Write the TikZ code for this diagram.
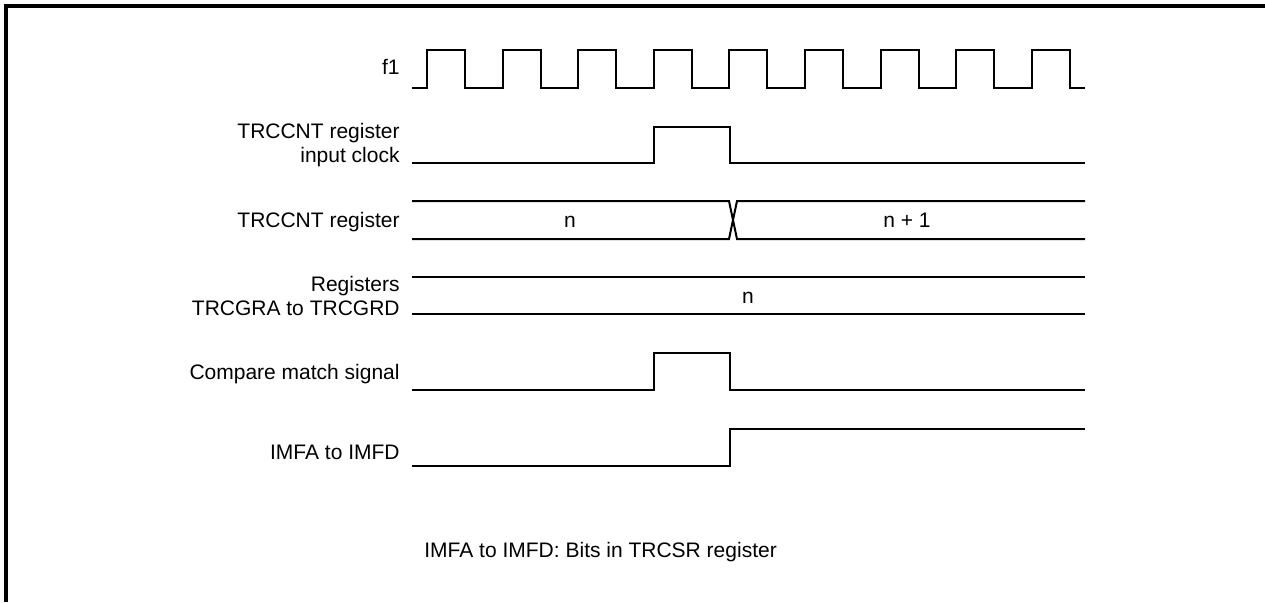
\documentclass[tikz,border=0pt]{standalone}
\usepackage{fontspec}
\setmainfont{Liberation Sans}
\usetikzlibrary{positioning}
\tikzset{
  wave/.style={line width=1pt, line join=miter},
  lbl/.style={anchor=base east, align=right, inner sep=0pt, font=\fontsize{10.5}{11.75}\selectfont},
  val/.style={anchor=base, inner sep=0pt, font=\fontsize{10.5}{11.75}\selectfont},
}
\begin{document}
\begin{tikzpicture}[x=0.5pt, y=-0.5pt]
\useasboundingbox (0,0) rectangle (1265,602);
% frame
\draw[line width=1.6pt] (6,602) -- (6,6) -- (1265,6);
% f1 clock
\node[lbl] (f1) at (400,74) {f1};
\draw[wave] (412,88) foreach \k in {0,...,8} {
  -- ({427+75.6*\k},88) -- ({427+75.6*\k},50) -- ({465+75.6*\k},50) -- ({465+75.6*\k},88)
} -- (1085,88);
% counter input clock (base = last line)
\node[lbl] (inclk) at (400,162) {TRCCNT register\\input clock};
\draw[wave] (412,163) -- (654,163) -- (654,127) -- (730,127) -- (730,163) -- (1085,163);
% counter value
\node[lbl] (cnt) at (400,227) {TRCCNT register};
\draw[wave] (412,201) -- (729,201) -- (737,239) -- (1085,239);
\draw[wave] (412,239) -- (729,239) -- (737,201) -- (1085,201);
\node[val] (cntn) at (570,227) {n};
\node[val] (cntnext) at (907,227) {n + 1};
% general registers
\node[lbl] (greg) at (400,315) {Registers\\TRCGRA to TRCGRD};
\draw[wave] (412,277) -- (1085,277);
\draw[wave] (412,314) -- (1085,314);
\node[val] (gregn) at (748,303) {n};
% compare match
\node[lbl] (cmp) at (400,379) {Compare match signal};
\draw[wave] (412,390) -- (654,390) -- (654,353) -- (730,353) -- (730,390) -- (1085,390);
% flags
\node[lbl] (imf) at (400,459) {IMFA to IMFD};
\draw[wave] (412,466) -- (730,466) -- (730,429) -- (1085,429);
% note
\node[val, anchor=base west] (note) at (424,557) {IMFA to IMFD: Bits in TRCSR register};
\end{tikzpicture}
\end{document}
